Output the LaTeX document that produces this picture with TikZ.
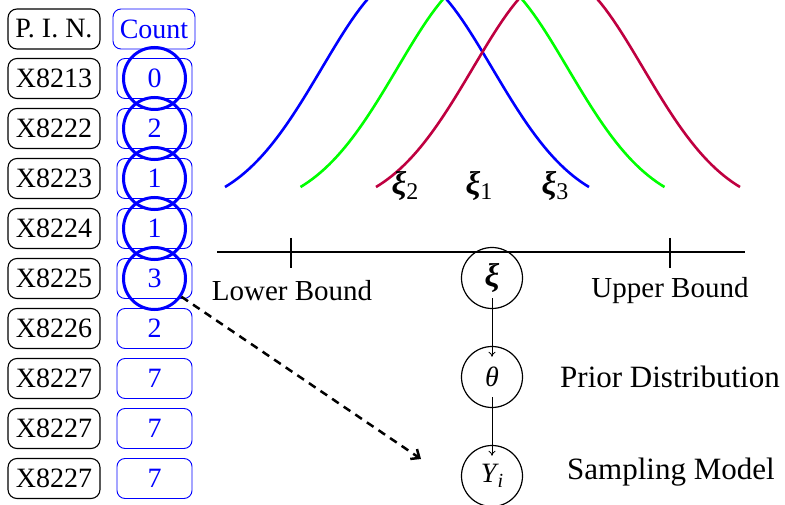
\documentclass[tikz,border=0pt]{standalone}
\usepackage{fontspec}
\setmainfont{Liberation Serif}
\usetikzlibrary{arrows.meta}
\begin{document}
\begin{tikzpicture}[x=1pt,y=-1pt, font=\fontsize{28}{32}\selectfont,
  pinbox/.style={draw, rounded corners=9pt, line width=1.1pt, minimum width=92pt, minimum height=40pt, inner sep=2pt},
  cntbox/.style={draw=blue, text=blue, rounded corners=8pt, line width=0.9pt, minimum width=75pt, minimum height=40pt, inner sep=2pt},
  ring/.style={draw=blue, line width=3pt, circle, minimum size=62pt, inner sep=0pt},
  bell/.style={line width=2.6pt},
  var/.style={minimum height=40pt, minimum width=10pt, inner sep=0pt},
  varring/.style={circle, draw, line width=1.2pt, minimum size=61pt, inner sep=0pt},
  lbl/.style={inner sep=0pt},
  biglbl/.style={inner sep=0pt, font=\fontsize{31}{34}\selectfont},
  xifont/.style={inner sep=0pt, font=\fontsize{33}{36}\selectfont},
  thinarrow/.style={-{To[length=5pt,width=7pt]}, line width=0.8pt},
  dasharrow/.style={dashed, dash pattern=on 8pt off 6pt, line width=2.5pt, -{Straight Barb[length=7pt,width=12pt]}}]
\useasboundingbox (0,0) rectangle (785,505);

% table
\node[pinbox] (p0) at (54,29) {P. I. N.};
\node[cntbox, minimum width=82pt] (c0) at (154,29) {Count};
\foreach \t/\v [count=\i] in {X8213/0,X8222/2,X8223/1,X8224/1,X8225/3,X8226/2,X8227/7,X8227/7,X8227/7}{
  \node[pinbox] (p\i) at (54,{28.5+50*\i}) {\t};
  \node[cntbox] (c\i) at (154.5,{28.5+50*\i}) {\v};
}
\foreach \i in {1,...,5}{
  \node[ring] (r\i) at (c\i) {};
}
\coordinate (dashend) at (421,459);
\draw[dasharrow] (r5) -- (dashend);

% bells
\begin{scope}
\clip (0,0) rectangle (785,505);
\draw[bell,blue] plot[domain=-182:182, samples=90] ({407+\x}, {210.8-235.6*exp(-0.5*(\x/85)^2)});
\draw[bell,green] plot[domain=-182:182, samples=90] ({482.5+\x}, {210.8-235.6*exp(-0.5*(\x/85)^2)});
\draw[bell,purple] plot[domain=-182:182, samples=90] ({558+\x}, {210.8-235.6*exp(-0.5*(\x/85)^2)});
\end{scope}
\node[xifont] (xi2) at (405,186) {\textbf{\textit{ξ}}{\fontsize{24}{26}\selectfont\raisebox{-5pt}{2}}};
\node[xifont] (xi1) at (479,186) {\textbf{\textit{ξ}}{\fontsize{24}{26}\selectfont\raisebox{-5pt}{1}}};
\node[xifont] (xi3) at (555,186) {\textbf{\textit{ξ}}{\fontsize{24}{26}\selectfont\raisebox{-5pt}{3}}};

% axis
\coordinate (al) at (217,252);
\coordinate (ar) at (745,252);
\draw[line width=1.8pt] (al) -- (ar);
\coordinate (lt1) at (291,238); \coordinate (lt2) at (291,268);
\coordinate (ut1) at (670,238); \coordinate (ut2) at (670,268);
\draw[line width=2.8pt] (lt1) -- (lt2);
\draw[line width=2.8pt] (ut1) -- (ut2);
\node[lbl, font=\fontsize{29}{32}\selectfont] (lb) at (292,291) {Lower Bound};
\node[lbl, font=\fontsize{29}{32}\selectfont] (ub) at (670,291) {Upper Bound};

% graphical model
\node[var, font=\fontsize{33}{36}\selectfont] (xi) at (492,278) {\textbf{\textit{ξ}}};
\node[var] (th) at (492,377) {\textit{θ}};
\node[var] (yi) at (492,476) {\textit{Y}\kern-1.5pt{\fontsize{20}{22}\selectfont\raisebox{-5pt}{\textit{i}}}};
\node[varring] (xic) at (xi) {};
\node[varring] (thc) at (th) {};
\node[varring] (yic) at (yi) {};
\draw[thinarrow] (xi.south) -- (th.north);
\draw[thinarrow] (th.south) -- (yi.north);
\node[biglbl] (pd) at (670,377) {Prior Distribution};
\node[biglbl] (sm) at (671,472) {Sampling Model};
\end{tikzpicture}
\end{document}
